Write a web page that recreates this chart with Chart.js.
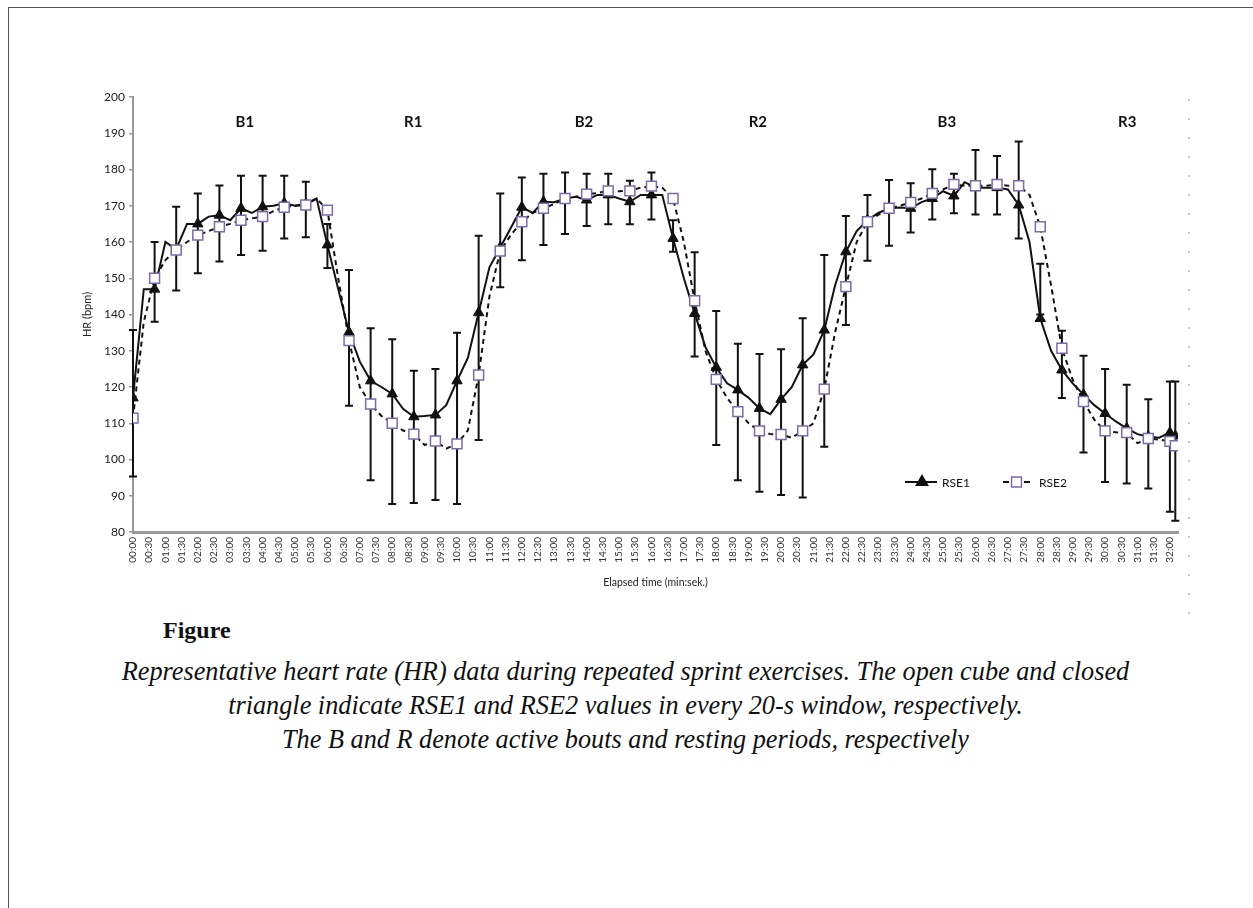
<!DOCTYPE html>
<html>
<head>
<meta charset="utf-8">
<script src="https://cdn.jsdelivr.net/npm/chart.js@4.4.1/dist/chart.umd.min.js"></script>
<style>
    body { margin: 0; width: 1253px; height: 908px; position: relative; background: #fff; overflow: hidden; }
    #frame { position: absolute; left: 8px; top: 7px; right: -4px; bottom: -4px; border-top: 1.5px solid #555; border-left: 1.5px solid #555; }
    #chartBox { position: absolute; left: 0; top: 0; width: 1253px; height: 600px; }
    #dots { position: absolute; left: 1188px; top: 99px; width: 2px; height: 515px;
        background: repeating-linear-gradient(to bottom, #c8c8c8 0 2px, transparent 2px 19px); }
    .figLabel { position: absolute; left: 163px; top: 613px; font: bold 24px 'Liberation Serif', serif; line-height: 34px; color: #111; }
    .caption { position: absolute; left: 0; width: 1251px; top: 655px; text-align: center; font-family: 'Liberation Serif', serif; font-style: italic; font-size: 24px; line-height: 34px; color: #111; }
</style>
</head>
<body>
<div id="frame"></div>
<div id="chartBox"><canvas id="hrChart" width="1253" height="600"></canvas></div>
<div id="dots"></div>
<div class="figLabel">Figure</div>
<div class="caption" id="caption">
    <div id="capLine1">Representative heart rate (HR) data during repeated sprint exercises. The open cube and closed</div>
    <div>triangle indicate RSE1 and RSE2 values in every 20-s window, respectively.</div>
    <div>The B and R denote active bouts and resting periods, respectively</div>
</div>
<script>
// sample times (s) of the HR traces
const times = [0, 20, 40, 60, 80, 100, 120, 140, 160, 180,
    200, 220, 240, 260, 280, 300, 320, 340, 360, 380,
    400, 420, 440, 460, 480, 500, 520, 540, 560, 580,
    600, 620, 640, 660, 680, 700, 720, 740, 760, 780,
    800, 820, 840, 860, 880, 900, 920, 940, 960, 980,
    1000, 1020, 1040, 1060, 1080, 1100, 1120, 1140, 1160, 1180,
    1200, 1220, 1240, 1260, 1280, 1300, 1320, 1340, 1360, 1380,
    1400, 1420, 1440, 1460, 1480, 1500, 1520, 1540, 1560, 1580,
    1600, 1620, 1640, 1660, 1680, 1700, 1720, 1740, 1760, 1780,
    1800, 1820, 1840, 1860, 1880, 1900, 1920, 1930];

const rse1 = [117, 147, 147, 160, 158, 165, 165, 167, 167.4, 166,
    169.3, 168, 169.7, 170, 170.7, 170, 170.5, 172, 159.2, 147,
    135.1, 127, 121.7, 120, 118.1, 114, 111.8, 112, 112.3, 115,
    121.7, 128, 140.5, 153, 158.5, 164, 169.6, 168, 171.1, 171,
    172, 172.5, 171.6, 173, 173, 172, 171.1, 173, 173, 173,
    161, 150, 140.3, 131, 125.4, 121, 119.2, 117, 114.1, 112.5,
    116.6, 120, 126.1, 129, 135.7, 148, 157.3, 163, 166, 168,
    169.3, 169.5, 169.3, 171, 172, 174, 172.7, 176.5, 175, 175,
    175, 174.5, 170.2, 160, 138.9, 130, 124.7, 121, 117.9, 115,
    112.7, 110.5, 108.6, 107, 106.3, 106, 107.4, 106.5];

const rse2 = [111.4, 138, 150, 155, 157.8, 160, 161.9, 163, 164.2, 165,
    166, 166.5, 167, 168.5, 169.6, 170, 170.2, 172, 168.8, 150,
    132.8, 120, 115.3, 112, 110, 108, 107, 104, 105.1, 103,
    104.3, 108, 123.3, 145, 157.5, 162, 165.6, 168, 169.3, 170.5,
    172, 172.5, 173.2, 173.5, 174.1, 174, 174.1, 175, 175.4, 175,
    172, 160, 143.8, 130, 122.1, 117, 113.2, 110, 107.9, 107,
    106.9, 106, 107.9, 110, 119.4, 135, 147.7, 160, 165.6, 167.5,
    169.3, 170, 170.9, 172, 173.4, 174.5, 175.9, 175.5, 175.5, 175.5,
    175.9, 175.5, 175.5, 173, 164.2, 148, 130.7, 122, 116, 111,
    107.9, 107.5, 107.4, 104.5, 105.8, 105.5, 105, 103.8];

// marker / error-bar windows
const markerTimes = times.filter(t => t % 40 === 0 || t === 1930);
const errHigh = [135.7, 160, 169.7, 173.4, 175.6, 178.3, 178.3, 178.3, 176.6, 165,
    152.3, 136.2, 133.2, 124.5, 125, 135, 161.7, 173.4, 177.8, 178.8,
    179.2, 178.8, 178.8, 176.9, 179.2, 166, 157.2, 141, 131.9, 129.1,
    130.4, 139, 156.4, 167.2, 173, 177.1, 176.2, 180.1, 178.8, 185.4,
    183.7, 187.7, 154, 135.5, 128.6, 125, 120.6, 116.6, 121.5, 121.5];
const errLow = [95.3, 138, 146.6, 151.4, 154.6, 156.4, 157.6, 161, 161.3, 152.8,
    114.8, 94.3, 87.7, 88, 88.8, 87.7, 105.4, 147.5, 155, 159.2,
    162.2, 164.4, 164.9, 164.9, 166.2, 157.3, 128.4, 104, 94.3, 91.1,
    90.2, 89.5, 103.5, 137.1, 154.8, 159, 162.6, 166.2, 167.9, 167.6,
    167.6, 161, 140, 117, 101.9, 93.8, 93.4, 92, 85.6, 83.1];

const sectionLabels = ['B1', 'R1', 'B2', 'R2', 'B3', 'R3'];
const sectionTimes = [207, 519, 835, 1157, 1507, 1841];

const chartFont = "Lato, 'Open Sans', sans-serif";

function isMarker(i) {
    return markerTimes.indexOf(times[i]) >= 0;
}

function fmtTime(v) {
    var m = Math.floor(v / 60), s = v % 60;
    return String(m).padStart(2, '0') + ':' + String(s).padStart(2, '0');
}

var decorPlugin = {
    id: 'hrDecor',
    beforeDatasetsDraw: function (chart) {
        var ctx = chart.ctx, xs = chart.scales.x, ys = chart.scales.y;
        ctx.save();
        ctx.strokeStyle = '#111';
        ctx.lineWidth = 2;
        for (var i = 0; i < markerTimes.length; i++) {
            var x = xs.getPixelForValue(markerTimes[i]);
            var yh = ys.getPixelForValue(errHigh[i]);
            var yl = ys.getPixelForValue(errLow[i]);
            ctx.beginPath();
            ctx.moveTo(x, yh); ctx.lineTo(x, yl);
            ctx.moveTo(x - 4, yh); ctx.lineTo(x + 4, yh);
            ctx.moveTo(x - 4, yl); ctx.lineTo(x + 4, yl);
            ctx.stroke();
        }
        ctx.restore();
    },
    afterDraw: function (chart) {
        var ctx = chart.ctx, xs = chart.scales.x, area = chart.chartArea;
        ctx.save();
        // bout / rest labels
        ctx.fillStyle = '#111';
        ctx.font = 'bold 15px ' + chartFont;
        ctx.textAlign = 'center';
        ctx.textBaseline = 'middle';
        sectionLabels.forEach(function (lbl, i) {
            ctx.fillText(lbl, xs.getPixelForValue(sectionTimes[i]), area.top + 25);
        });
        // legend
        var ly = area.bottom - 50, lx = area.right - 273;
        ctx.strokeStyle = '#111';
        ctx.lineWidth = 2;
        ctx.beginPath(); ctx.moveTo(lx, ly); ctx.lineTo(lx + 32, ly); ctx.stroke();
        ctx.fillStyle = '#111';
        Chart.helpers.drawPoint(ctx, { pointStyle: 'triangle', radius: 6, borderWidth: 1 }, lx + 17, ly);
        ctx.fill();
        ctx.font = '12px ' + chartFont;
        ctx.textAlign = 'left';
        ctx.fillText('RSE1', lx + 37, ly + 1);
        var l2 = lx + 98;
        ctx.beginPath(); ctx.moveTo(l2, ly); ctx.lineTo(l2 + 6, ly); ctx.moveTo(l2 + 21, ly); ctx.lineTo(l2 + 27, ly); ctx.stroke();
        ctx.fillStyle = '#fff';
        ctx.strokeStyle = '#7d6aa8';
        ctx.lineWidth = 1.5;
        Chart.helpers.drawPoint(ctx, { pointStyle: 'rect', radius: 7, borderWidth: 1.5 }, l2 + 13.5, ly);
        ctx.fillStyle = '#111';
        ctx.fillText('RSE2', l2 + 36, ly + 1);
        ctx.restore();
    }
};

function createChart() {
    var ctx = document.getElementById('hrChart').getContext('2d');
    var pts1 = times.map((t, i) => ({ x: t, y: rse1[i] }));
    var pts2 = times.map((t, i) => ({ x: t, y: rse2[i] }));

    return new Chart(ctx, {
        type: 'line',
        data: {
            datasets: [
                {
                    label: 'RSE2',
                    data: pts2,
                    borderColor: '#111',
                    borderWidth: 2,
                    borderDash: [5, 4],
                    pointStyle: 'rect',
                    pointRadius: c => isMarker(c.dataIndex) ? 7 : 0,
                    pointBackgroundColor: '#fff',
                    pointBorderColor: '#7d6aa8',
                    pointBorderWidth: 1.5,
                    tension: 0
                },
                {
                    label: 'RSE1',
                    data: pts1,
                    borderColor: '#111',
                    borderWidth: 2,
                    pointStyle: 'triangle',
                    pointRadius: c => isMarker(c.dataIndex) ? 6 : 0,
                    pointBackgroundColor: '#111',
                    pointBorderColor: '#111',
                    pointBorderWidth: 1,
                    tension: 0
                }
            ]
        },
        options: {
            responsive: false,
            animation: false,
            layout: { padding: { left: 0, top: 97, right: 75, bottom: 0 } },
            plugins: { legend: { display: false }, tooltip: { enabled: false } },
            scales: {
                x: {
                    type: 'linear',
                    min: 0,
                    max: 1935,
                    afterFit: s => { s.height = 68; },
                    ticks: {
                        stepSize: 30,
                        includeBounds: false,
                        autoSkip: false,
                        minRotation: 90,
                        maxRotation: 90,
                        padding: 5,
                        color: '#333',
                        font: { family: chartFont, size: 10 },
                        callback: v => fmtTime(v)
                    },
                    grid: { drawOnChartArea: false, drawTicks: false },
                    border: { color: '#999', width: 3 },
                    title: {
                        display: true,
                        text: 'Elapsed time (min:sek.)',
                        color: '#222',
                        font: { family: chartFont, size: 10.5 },
                        padding: { top: 0, bottom: 11 }
                    }
                },
                y: {
                    min: 80,
                    max: 200,
                    afterFit: s => { s.width = 133; },
                    ticks: {
                        stepSize: 10,
                        padding: 4,
                        color: '#222',
                        font: { family: chartFont, size: 12 }
                    },
                    grid: { drawOnChartArea: false, tickLength: 4, color: '#999', lineWidth: 1.5 },
                    border: { color: '#999', width: 2 },
                    title: {
                        display: true,
                        text: 'HR (bpm)',
                        color: '#222',
                        font: { family: chartFont, size: 11 },
                        padding: { top: 81, bottom: 0 }
                    }
                }
            }
        },
        plugins: [decorPlugin]
    });
}

function fitCaption() {
    var c = document.createElement('canvas').getContext('2d');
    c.font = "italic 24px 'Liberation Serif'";
    var w = c.measureText(document.getElementById('capLine1').textContent).width;
    var size = 24 * 1008 / w;
    document.getElementById('caption').style.fontSize = size.toFixed(2) + 'px';
}

document.fonts.ready.then(function () {
    fitCaption();
    createChart();
});
</script>
</body>
</html>
